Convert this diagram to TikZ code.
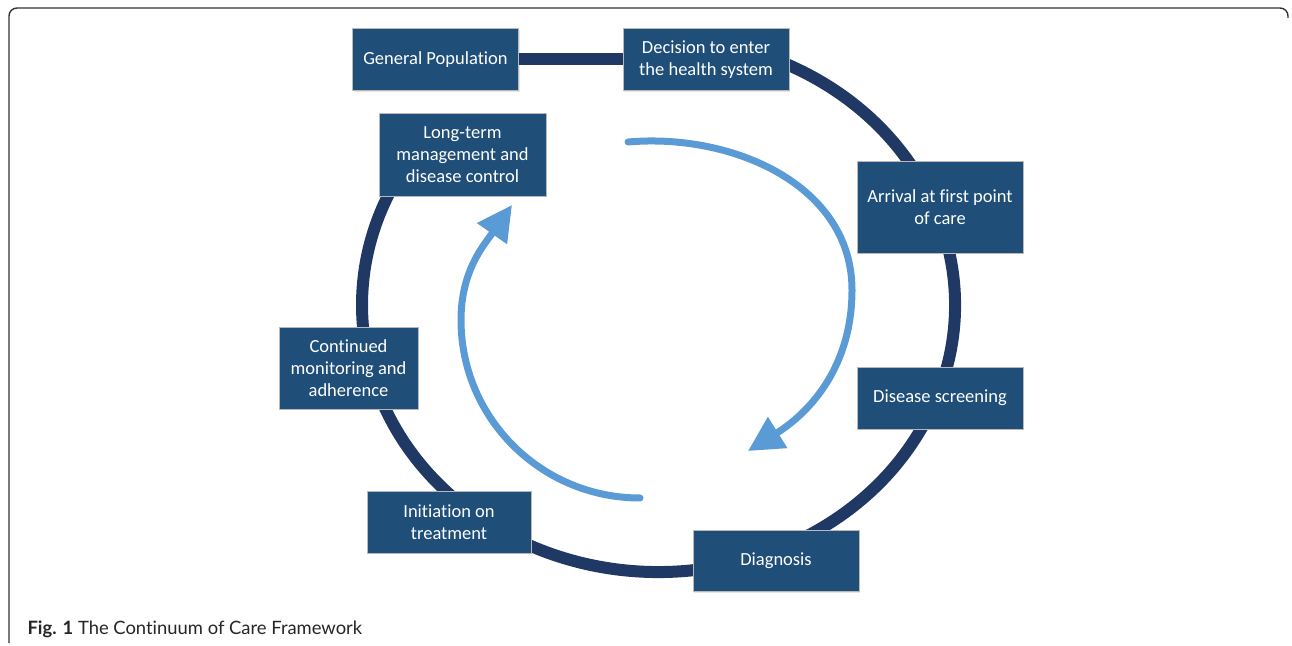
\documentclass[tikz,border=0pt]{standalone}
\usepackage{fontspec}
\setmainfont{Carlito}[Ligatures=NoCommon]
\newfontfamily\capfont{Lato}[Ligatures=NoCommon]
\usetikzlibrary{arrows.meta,shadows}

\definecolor{stagefill}{HTML}{1F4E79}
\definecolor{ringblue}{HTML}{203864}
\definecolor{flowblue}{HTML}{5B9BD5}

\tikzset{
  stage/.style={draw=gray!55, line width=0.8pt, fill=stagefill, text=white,
    align=center, font=\fontsize{18.5}{22}\selectfont, inner sep=2pt,
    minimum width=166pt, minimum height=62pt,
    drop shadow={opacity=0.2,shadow xshift=1.2pt,shadow yshift=-1.5pt}},
  ring/.style={draw=ringblue, line width=12pt},
  flow/.style={draw=flowblue, line width=7pt, line cap=round,
    -{Triangle[length=35pt,width=35pt]}},
  frame/.style={draw=black!80, line width=1.4pt}
}

\begin{document}
\begin{tikzpicture}[x=1pt,y=1pt]
\useasboundingbox (0,0) rectangle (1292,645);

% outer frame
\draw[frame] (9,2) -- (9,629) arc[start angle=180,end angle=90,radius=8]
  -- (1280,637) arc[start angle=90,end angle=0,radius=8] -- (1288,627);

% the cycle ring, hidden under the stages
\coordinate (hub) at (658.5,340);
\draw[ring] (hub) ++(65:296.5 and 267) arc[start angle=65,end angle=-210,x radius=296.5,y radius=267];

% stages
\node[stage] (gen) at (435.5,585.5) {General Population};
\node[stage] (dec) at (706,585.5) {Decision to enter\\the health system};
\node[stage,minimum height=92pt] (arr) at (940,438) {Arrival at first point\\of care};
\node[stage] (scr) at (940,247) {Disease screening};
\node[stage,minimum height=61pt] (dia) at (776,84.5) {Diagnosis};
\node[stage,minimum width=164pt] (ini) at (449,123) {Initiation on\\treatment};
\node[stage,minimum width=139pt,minimum height=82pt] (mon) at (348.5,277) {Continued\\monitoring and\\adherence};
\node[stage,minimum width=167pt,minimum height=83pt] (ltm) at (462.5,490.5) {Long-term\\management and\\disease control};

\draw[ring] (gen) -- (dec);

% inner flow arrows
\coordinate (f1a) at (628,503);
\coordinate (f1b) at (852,355);
\coordinate (f1c) at (748,194);
\draw[flow] (f1a) to[out=5,in=90] (f1b) to[out=-90,in=32] (f1c);

\coordinate (f2a) at (640,147);
\coordinate (f2b) at (461,325);
\coordinate (f2c) at (512,440);
\draw[flow] (f2a) to[out=180,in=-90] (f2b) to[out=90,in=235] (f2c);

% caption
\node[anchor=base west,text=black!85,font=\capfont\fontsize{18.4}{22}\selectfont] (cap) at (24,11)
  {\textbf{Fig. 1} The Continuum of Care Framework};
\end{tikzpicture}
\end{document}
